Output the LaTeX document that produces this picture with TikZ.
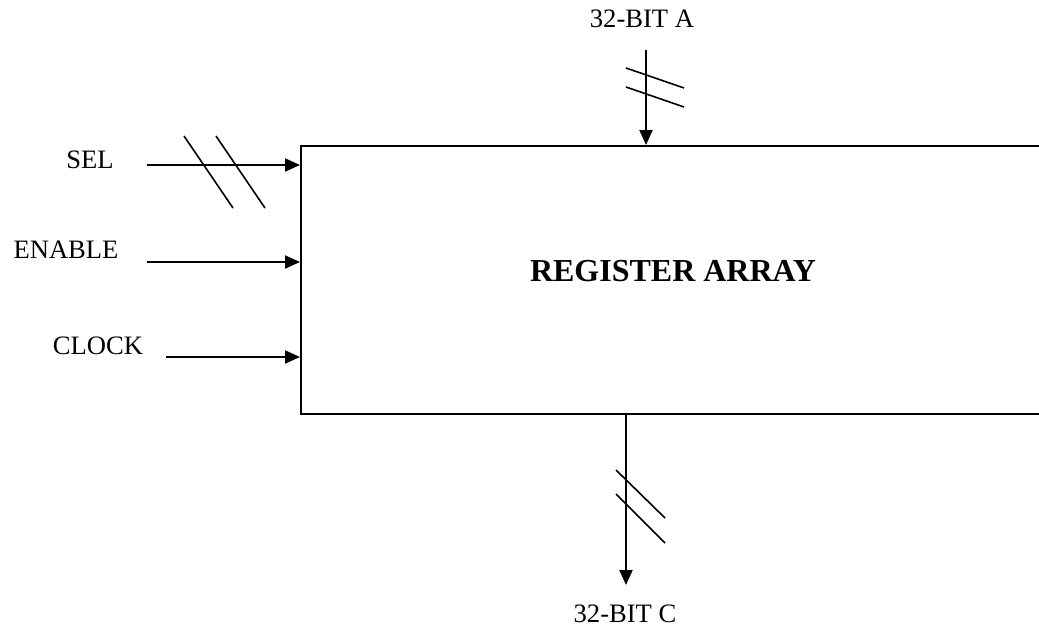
\documentclass[tikz,border=0pt]{standalone}
\usepackage{fontspec}
\setmainfont{Liberation Serif}
\usetikzlibrary{arrows.meta}
\begin{document}
\begin{tikzpicture}[x=1pt,y=-1pt,
  lbl/.style={inner sep=0pt,anchor=base,font=\fontsize{26.6}{30}\selectfont},
  ttl/.style={inner sep=0pt,anchor=base,font=\fontsize{32}{36}\selectfont\bfseries},
  arr/.style={line width=2pt,-{Triangle[length=15pt,width=13pt]}},
  slash/.style={line width=1.6pt},
  blk/.style={draw,line width=2pt,rectangle,inner sep=0pt,anchor=north west,minimum width=800pt,minimum height=268pt}]
\useasboundingbox (0,0) rectangle (1039,626);
\clip (0,0) rectangle (1039,626);
\node[blk] (box) at (300,145) {};
\node[ttl] (title) at (673,281) {REGISTER ARRAY};
% labels
\node[lbl] (sel) at (90,168) {SEL};
\node[lbl] (en) at (66,258) {ENABLE};
\node[lbl] (clk) at (98,354) {CLOCK};
\node[lbl] (a) at (642,28) {32-BIT A};
\node[lbl] (c) at (625,622) {32-BIT C};
% connector start points
\coordinate (sels) at (147,165);
\coordinate (ens) at (147,262);
\coordinate (clks) at (166,357);
\coordinate (as) at (646,50);
\coordinate (ce) at (626,585);
\draw[arr] (sels) -- (sels -| box.west);
\draw[arr] (ens) -- (ens -| box.west);
\draw[arr] (clks) -- (clks -| box.west);
\draw[arr] (as) -- (as |- box.north);
\draw[arr] (ce |- box.south) -- (ce);
% bus slashes
\draw[slash] (184,136) -- (233,208);
\draw[slash] (216,136) -- (265,208);
\draw[slash] (626,68) -- (684,88);
\draw[slash] (626,87) -- (684,107);
\draw[slash] (616,470) -- (665,518);
\draw[slash] (616,494) -- (665,543);
\end{tikzpicture}
\end{document}
